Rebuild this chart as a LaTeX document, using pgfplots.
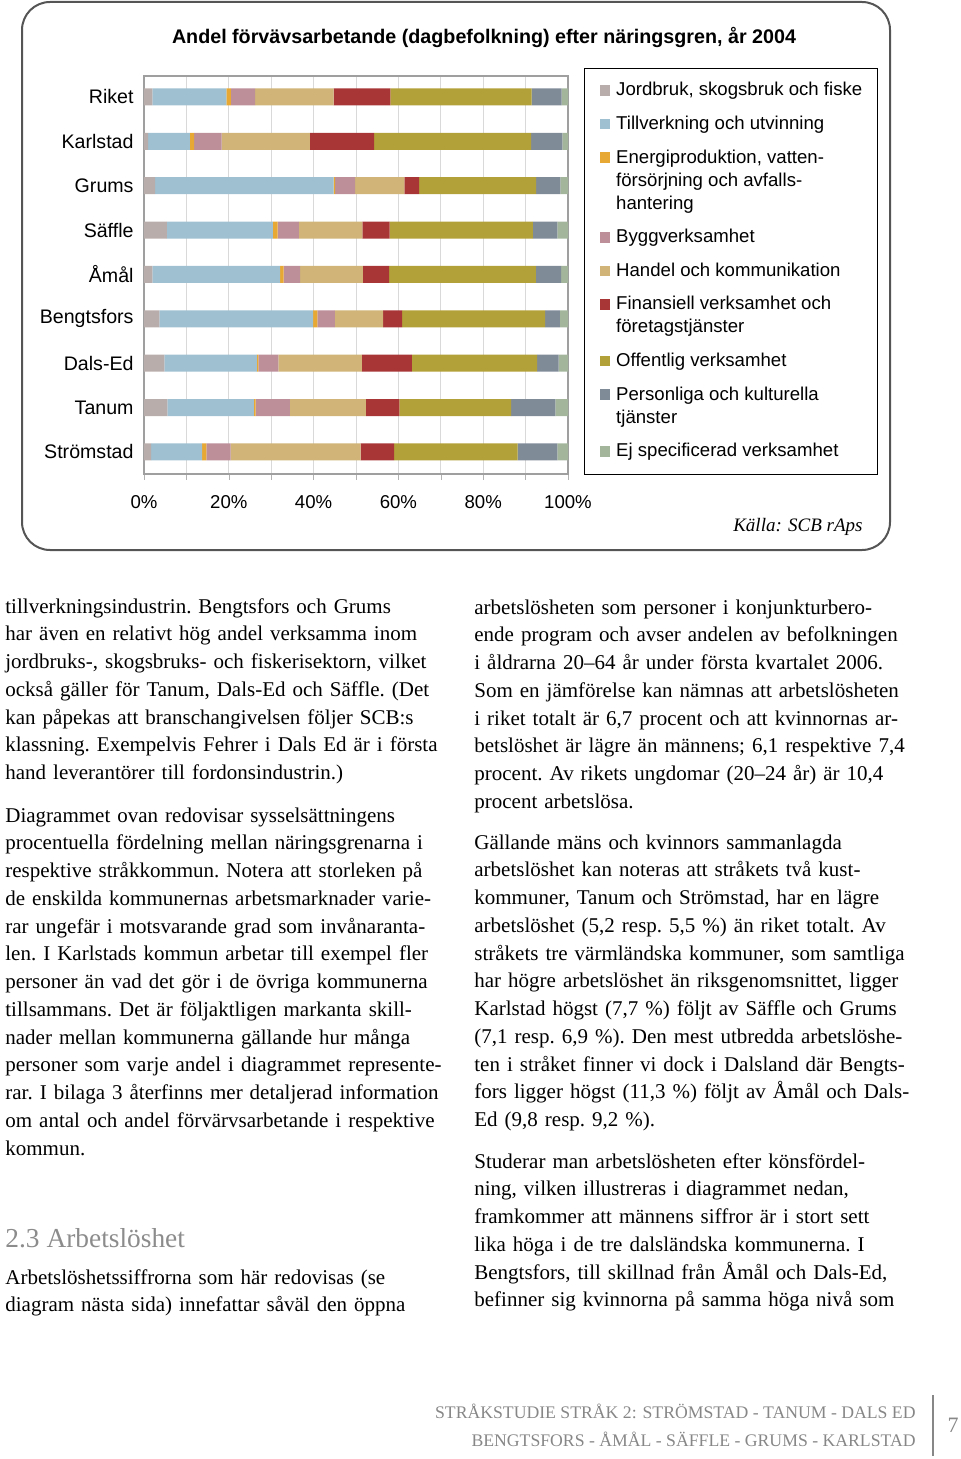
\documentclass[border=0pt]{standalone}
\usepackage{fontspec}
\setmainfont{Liberation Serif}
\newfontfamily\sans{Liberation Sans}
\usepackage{pgfplots}
\usepackage{pgfplotstable}
\pgfplotsset{compat=1.18}

\definecolor{cJord}{RGB}{184,173,170}
\definecolor{cTill}{RGB}{158,192,208}
\definecolor{cEner}{RGB}{232,168,52}
\definecolor{cBygg}{RGB}{188,143,153}
\definecolor{cHand}{RGB}{208,180,120}
\definecolor{cFin}{RGB}{168,54,54}
\definecolor{cOff}{RGB}{178,160,56}
\definecolor{cPers}{RGB}{128,139,152}
\definecolor{cEj}{RGB}{163,182,156}
\definecolor{framegray}{RGB}{85,85,85}
\definecolor{headgray}{RGB}{140,140,140}
\definecolor{footgray}{RGB}{135,135,135}

\newcommand{\body}{\frenchspacing\fontsize{10.5pt}{13.875pt}\selectfont}
\newcommand{\lgfont}{\sans\fontsize{9.3pt}{11.5pt}\selectfont}
\newcommand{\sw}[1]{\textcolor{#1}{\rule{5.3pt}{5.3pt}}}

% andel (%) per naringsgren; y: 8 = Riket ... 0 = Stromstad
\pgfplotstableread{
y jord till energi bygg handel finans off pers ej
8 2.0 17.4 1.1 5.7 18.5 13.4 33.3 7.1 1.5
7 1.0  9.8 1.0 6.5 20.8 15.2 37.0 7.4 1.3
6 2.6 42.1 0.4 4.7 11.6  3.5 27.6 5.7 1.8
5 5.4 25.0 1.1 5.0 15.0  6.4 33.8 5.8 2.5
4 2.0 30.1 0.8 3.9 14.8  6.2 34.6 6.0 1.6
3 3.6 36.3 1.0 4.1 11.4  4.5 33.7 3.5 1.9
2 4.8 21.8 0.4 4.7 19.7 11.8 29.5 5.1 2.2
1 5.5 20.4 0.4 8.1 17.9  7.9 26.4 10.4 3.0
0 1.7 12.0 1.0 5.7 30.7  7.9 29.1 9.4 2.5
}\branscher

\begin{document}
\begin{tikzpicture}[x=0.5pt,y=-0.5pt]
\path[use as bounding box] (0,0) rectangle (960,1459);

% ram kring diagrammet
\draw[framegray, line width=1pt, rounded corners=14pt] (22,2) rectangle (890,550);
\node[anchor=base, inner sep=0pt, font=\sans\bfseries\fontsize{9.85pt}{12pt}\selectfont] at (484,44)
  {Andel förvävsarbetande (dagbefolkning) efter näringsgren, år 2004};

\coordinate (axsw) at (144,474);
\begin{axis}[
  at={(axsw)}, anchor=south west,
  scale only axis, width=212pt, height=199pt,
  xbar stacked, bar width=8.5pt,
  xmin=0, xmax=100, ymin=-0.496, ymax=8.473,
  xtick={0,20,...,100},
  xticklabels={0\%,20\%,40\%,60\%,80\%,100\%},
  minor xtick={10,30,50,70,90},
  xmajorgrids, xminorgrids,
  major grid style={gray!30, line width=0.5pt},
  minor grid style={gray!30, line width=0.5pt},
  ytick={0,...,8},
  yticklabels={Strömstad,Tanum,Dals-Ed,Bengtsfors,Åmål,Säffle,Grums,Karlstad,Riket},
  axis line style={gray!75, line width=0.6pt},
  xtick pos=bottom, tick align=outside,
  major tick length=3pt, minor tick length=3pt,
  x tick style={gray!60},
  ytick style={draw=none},
  xticklabel style={font=\sans\fontsize{9.3pt}{11pt}\selectfont, yshift=-4pt},
  yticklabel style={font=\sans\fontsize{9.8pt}{12pt}\selectfont, xshift=1.3pt},
  every axis plot/.append style={draw=none},
]
\addplot[fill=cJord] table[x=jord,y=y]{\branscher};
\addplot[fill=cTill] table[x=till,y=y]{\branscher};
\addplot[fill=cEner] table[x=energi,y=y]{\branscher};
\addplot[fill=cBygg] table[x=bygg,y=y]{\branscher};
\addplot[fill=cHand] table[x=handel,y=y]{\branscher};
\addplot[fill=cFin] table[x=finans,y=y]{\branscher};
\addplot[fill=cOff] table[x=off,y=y]{\branscher};
\addplot[fill=cPers] table[x=pers,y=y]{\branscher};
\addplot[fill=cEj] table[x=ej,y=y]{\branscher};
\end{axis}

% teckenforklaring
\node[anchor=north west, draw=black, line width=0.6pt, inner xsep=7.5pt, inner ysep=5.6pt, font=\lgfont] at (584,68) {%
\begin{tabular}{@{}l@{\hspace{3pt}}l@{}}
\sw{cJord} & Jordbruk, skogsbruk och fiske\\[5.3pt]
\sw{cTill} & Tillverkning och utvinning\\[5.3pt]
\sw{cEner} & Energiproduktion, vatten-\\
 & försörjning och avfalls-\\
 & hantering\\[5.3pt]
\sw{cBygg} & Byggverksamhet\\[5.3pt]
\sw{cHand} & Handel och kommunikation\\[5.3pt]
\sw{cFin} & Finansiell verksamhet och\\
 & företagstjänster\\[5.3pt]
\sw{cOff} & Offentlig verksamhet\\[5.3pt]
\sw{cPers} & Personliga och kulturella\\
 & tjänster\\[5.3pt]
\sw{cEj} & Ej specificerad verksamhet
\end{tabular}};

\node[anchor=base east, inner sep=0pt, font=\itshape\fontsize{9.5pt}{11pt}\selectfont] at (863,531) {Källa: SCB rAps};

% vanster spalt
\node[anchor=base west, inner sep=0pt, text width=235pt, align=left, font=\body] at (5,613) {%
tillverkningsindustrin. Bengtsfors och Grums\\
har även en relativt hög andel verksamma inom\\
jordbruks-, skogsbruks- och fiskerisektorn, vilket\\
också gäller för Tanum, Dals-Ed och Säffle. (Det\\
kan påpekas att branschangivelsen följer SCB:s\\
klassning. Exempelvis Fehrer i Dals Ed är i första\\
hand leverantörer till fordonsindustrin.)};

\node[anchor=base west, inner sep=0pt, text width=235pt, align=left, font=\body] at (5,822) {%
Diagrammet ovan redovisar sysselsättningens\\
procentuella fördelning mellan näringsgrenarna i\\
respektive stråkkommun. Notera att storleken på\\
de enskilda kommunernas arbetsmarknader varie-\\
rar ungefär i motsvarande grad som invånaranta-\\
len. I Karlstads kommun arbetar till exempel fler\\
personer än vad det gör i de övriga kommunerna\\
tillsammans. Det är följaktligen markanta skill-\\
nader mellan kommunerna gällande hur många\\
personer som varje andel i diagrammet represente-\\
rar. I bilaga 3 återfinns mer detaljerad information\\
om antal och andel förvärvsarbetande i respektive\\
kommun.};

\node[anchor=base west, inner sep=0pt, text=headgray, font=\fontsize{13.7pt}{16pt}\selectfont] at (5,1247) {2.3 Arbetslöshet};

\node[anchor=base west, inner sep=0pt, text width=235pt, align=left, font=\body] at (5,1284) {%
Arbetslöshetssiffrorna som här redovisas (se\\
diagram nästa sida) innefattar såväl den öppna};

% hoger spalt
\node[anchor=base west, inner sep=0pt, text width=235pt, align=left, font=\body] at (474,614) {%
arbetslösheten som personer i konjunkturbero-\\
ende program och avser andelen av befolkningen\\
i åldrarna 20–64 år under första kvartalet 2006.\\
Som en jämförelse kan nämnas att arbetslösheten\\
i riket totalt är 6,7 procent och att kvinnornas ar-\\
betslöshet är lägre än männens; 6,1 respektive 7,4\\
procent. Av rikets ungdomar (20–24 år) är 10,4\\
procent arbetslösa.};

\node[anchor=base west, inner sep=0pt, text width=235pt, align=left, font=\body] at (474,849) {%
Gällande mäns och kvinnors sammanlagda\\
arbetslöshet kan noteras att stråkets två kust-\\
kommuner, Tanum och Strömstad, har en lägre\\
arbetslöshet (5,2 resp. 5,5 \%) än riket totalt. Av\\
stråkets tre värmländska kommuner, som samtliga\\
har högre arbetslöshet än riksgenomsnittet, ligger\\
Karlstad högst (7,7 \%) följt av Säffle och Grums\\
(7,1 resp. 6,9 \%). Den mest utbredda arbetslöshe-\\
ten i stråket finner vi dock i Dalsland där Bengts-\\
fors ligger högst (11,3 \%) följt av Åmål och Dals-\\
Ed (9,8 resp. 9,2 \%).};

\node[anchor=base west, inner sep=0pt, text width=235pt, align=left, font=\body] at (474,1168) {%
Studerar man arbetslösheten efter könsfördel-\\
ning, vilken illustreras i diagrammet nedan,\\
framkommer att männens siffror är i stort sett\\
lika höga i de tre dalsländska kommunerna. I\\
Bengtsfors, till skillnad från Åmål och Dals-Ed,\\
befinner sig kvinnorna på samma höga nivå som};

% sidfot
\node[anchor=base east, inner sep=0pt, text=footgray, font=\fontsize{8.85pt}{10pt}\selectfont] at (916,1418)
  {STRÅKSTUDIE STRÅK 2: STRÖMSTAD - TANUM - DALS ED};
\node[anchor=base east, inner sep=0pt, text=footgray, font=\fontsize{8.85pt}{10pt}\selectfont] at (916,1446)
  {BENGTSFORS - ÅMÅL - SÄFFLE - GRUMS - KARLSTAD};
\draw[footgray, line width=0.9pt] (933,1395) -- (933,1456);
\node[anchor=base, inner sep=0pt, text=footgray, font=\fontsize{11pt}{12pt}\selectfont] at (953,1432) {7};
\end{tikzpicture}
\end{document}
